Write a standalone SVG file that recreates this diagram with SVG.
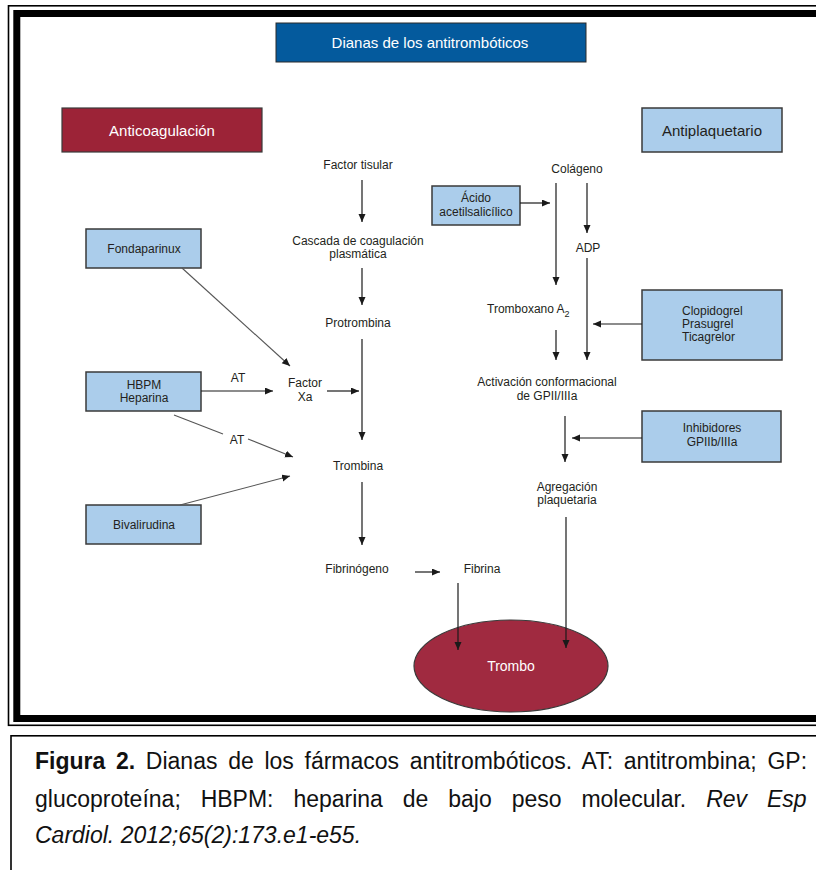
<svg xmlns="http://www.w3.org/2000/svg" width="816" height="870" viewBox="0 0 816 870">
<style>
.t{font-family:"Liberation Sans",Arial,sans-serif;font-size:12px;fill:#231f20;text-anchor:middle}
.bl{font-family:"Liberation Sans",Arial,sans-serif;font-size:15px;text-anchor:middle}
.box{fill:#abcdeb;stroke:#3a3a3a;stroke-width:1.5}
.red{fill:#9c2337;stroke:#3a3a3a;stroke-width:1.2}
.c{stroke:#1a1a1a;stroke-width:1.2;fill:none}
.d{stroke:#555;stroke-width:1.1;fill:none}
.arr{marker-end:url(#ah)}
.cap{font-family:"Liberation Sans",Arial,sans-serif;font-size:23px;fill:#111}
</style>
<defs>
<marker id="ah" markerUnits="userSpaceOnUse" markerWidth="9" markerHeight="8" refX="8" refY="3.5" orient="auto">
<path d="M0,0 L8,3.5 L0,7 z" fill="#1a1a1a"/>
</marker>
</defs>
<rect width="816" height="870" fill="#fff"/>
<g id="frame">
<rect x="8.5" y="5.8" width="900" height="719.5" fill="none" stroke="#000" stroke-width="1.6"/>
<rect x="16.8" y="13.5" width="900" height="705" fill="none" stroke="#000" stroke-width="7"/>
<rect x="11" y="735.8" width="900" height="200" fill="none" stroke="#000" stroke-width="1.6"/>
</g>
<g id="title"><rect x="276" y="23" width="310" height="39" fill="#045a9d" stroke="#2a2a2a" stroke-width="1"/><text class="bl" x="430" y="48" fill="#fff">Dianas de los antitrombóticos</text></g>
<g id="anticoagulacion"><rect class="red" x="62" y="108" width="200" height="44"/><text class="bl" x="162" y="135.5" fill="#fff">Anticoagulación</text></g>
<g id="antiplaquetario"><rect class="box" x="642" y="108" width="140" height="44"/><text class="bl" x="712" y="135.5" fill="#231f20">Antiplaquetario</text></g>
<g id="fondaparinux"><rect class="box" x="86" y="229" width="115" height="39"/><text class="t" x="144" y="253">Fondaparinux</text></g>
<g id="hbpm"><rect class="box" x="86" y="372" width="115" height="39"/><text class="t" x="144" y="388.5">HBPM</text><text class="t" x="144" y="401.5">Heparina</text></g>
<g id="bivalirudina"><rect class="box" x="86" y="505" width="115" height="39"/><text class="t" x="144" y="528.5">Bivalirudina</text></g>
<g id="acido"><rect class="box" x="432" y="186" width="88" height="39"/><text class="t" x="476" y="202">Ácido</text><text class="t" x="476" y="216">acetilsalicílico</text></g>
<g id="clopidogrel"><rect class="box" x="642" y="290" width="140" height="70"/><text class="t" x="682" y="315" style="text-anchor:start">Clopidogrel</text><text class="t" x="682" y="328" style="text-anchor:start">Prasugrel</text><text class="t" x="682" y="341" style="text-anchor:start">Ticagrelor</text></g>
<g id="inhibidores"><rect class="box" x="642" y="411" width="139" height="51"/><text class="t" x="712" y="432">Inhibidores</text><text class="t" x="712" y="446">GPIIb/IIIa</text></g>
<g id="factor-tisular"><text class="t" x="358" y="169">Factor tisular</text></g>
<g id="cascada"><text class="t" x="358" y="245">Cascada de coagulación</text><text class="t" x="358" y="258">plasmática</text></g>
<g id="protrombina"><text class="t" x="358" y="327">Protrombina</text></g>
<g id="factor-xa"><text class="t" x="305" y="387">Factor</text><text class="t" x="305" y="401">Xa</text></g>
<g id="trombina"><text class="t" x="358" y="470">Trombina</text></g>
<g id="fibrinogeno"><text class="t" x="357" y="573">Fibrinógeno</text></g>
<g id="fibrina"><text class="t" x="482" y="573">Fibrina</text></g>
<g id="colageno"><text class="t" x="577" y="173">Colágeno</text></g>
<g id="adp"><text class="t" x="588" y="252">ADP</text></g>
<g id="tromboxano"><text class="t" x="487" y="313" style="text-anchor:start">Tromboxano A<tspan dy="4" font-size="9">2</tspan></text></g>
<g id="activacion"><text class="t" x="547" y="386">Activación conformacional</text><text class="t" x="547" y="400">de GPII/IIIa</text></g>
<g id="agregacion"><text class="t" x="567" y="491">Agregación</text><text class="t" x="567" y="504">plaquetaria</text></g>
<g id="trombo"><ellipse cx="511" cy="666" rx="97" ry="46" fill="#a02a40" stroke="#3a3a3a" stroke-width="1.2"/><text class="bl" x="511" y="671" fill="#fff" style="font-size:14px">Trombo</text></g>
<g id="connectors">
<line class="c arr" x1="362" y1="180" x2="362" y2="222"/>
<line class="c arr" x1="362" y1="268" x2="362" y2="305"/>
<line class="c arr" x1="362" y1="339" x2="362" y2="440"/>
<line class="c arr" x1="362" y1="482" x2="362" y2="545"/>
<line class="d arr" x1="182" y1="268" x2="290" y2="366"/>
<line class="c arr" x1="201" y1="391" x2="273" y2="391"/>
<text class="t" x="238" y="382">AT</text>
<line class="c arr" x1="327" y1="391" x2="359" y2="391"/>
<line class="d" x1="174" y1="415" x2="223" y2="434"/>
<text class="t" x="237" y="444">AT</text>
<line class="d arr" x1="248" y1="439" x2="293" y2="457"/>
<line class="d arr" x1="180" y1="505" x2="290" y2="476"/>
<line class="c arr" x1="415" y1="572" x2="440" y2="572"/>
<line class="c arr" x1="458" y1="583" x2="458" y2="650"/>
<line class="c arr" x1="566" y1="517" x2="566" y2="648"/>
<line class="c arr" x1="520" y1="203" x2="550" y2="203"/>
<line class="c arr" x1="556" y1="183" x2="556" y2="285"/>
<line class="c arr" x1="587" y1="183" x2="587" y2="233"/>
<line class="c arr" x1="587" y1="258" x2="587" y2="360"/>
<line class="c arr" x1="556" y1="330" x2="556" y2="360"/>
<line class="c arr" x1="642" y1="324" x2="593" y2="324"/>
<line class="c arr" x1="565" y1="416" x2="565" y2="462"/>
<line class="c arr" x1="642" y1="438" x2="572" y2="438"/>
</g>
<g id="caption">
<text class="cap" x="35" y="769" word-spacing="4.3"><tspan font-weight="bold">Figura 2.</tspan>  Dianas de los fármacos antitrombóticos. AT: antitrombina; GP:</text>
<text class="cap" x="35" y="807" word-spacing="13.5">glucoproteína; HBPM: heparina de bajo peso molecular. <tspan font-style="italic">Rev Esp</tspan></text>
<text class="cap" x="35" y="843" font-style="italic">Cardiol. 2012;65(2):173.e1-e55.</text>
</g>
</svg>
